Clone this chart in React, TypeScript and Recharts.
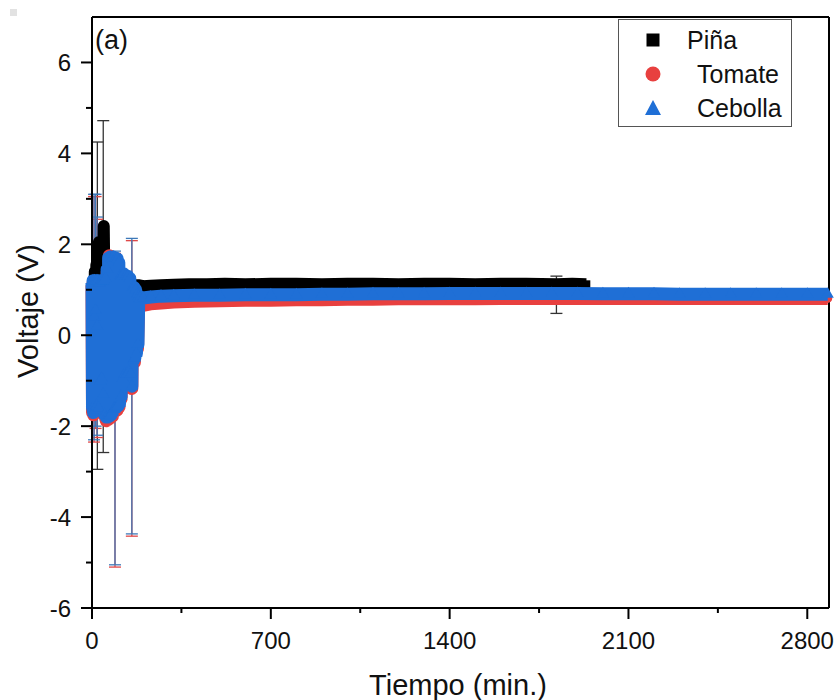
import { ScatterChart, Scatter, XAxis, YAxis, ZAxis, ErrorBar, ReferenceLine } from 'recharts'

// [time (min), voltage (V), error bar (symmetric, or [below, above])]
type Pt = [number, number, (number | [number, number])?]

const FONT = "'Liberation Sans', Arial, sans-serif"

const X_TICKS = [0, 350, 700, 1050, 1400, 1750, 2100, 2450, 2800]
const Y_TICKS = [-6, -5, -4, -3, -2, -1, 0, 1, 2, 3, 4, 5, 6]
const X_DOMAIN: [number, number] = [0, 2885]
const Y_DOMAIN: [number, number] = [-6, 7]

const SERIES_NAMES = ['Piña', 'Tomate', 'Cebolla']
const COLORS = ['#000000', '#e8403f', '#1f6fd6']
const ERR_COLORS = ['#333333', '#e04848', '#3d78b8']

const PINA: Pt[] = [
  [0, 0.9], [2, -1.3], [5, 1.2], [8, -0.9], [11, 1.4], [14, -0.2], [17, 1.55],
  [21, 0.65, 3.6], [24, 1.6], [27, 2.05], [31, 1.45], [36, 1.3], [41, 1.35],
  [44, 1.07, 3.65], [46, 2.4], [50, 0.6], [56, -0.8], [64, 0.9], [72, -1.2],
  [82, 0.5], [95, -0.8], [110, 0.6], [125, -0.4], [140, 0.8], [150, 1.05],
  [160, 1.1], [172, 1.1], [185, 1.1], [200, 1.08], [230, 1.09], [270, 1.1],
  [320, 1.11], [380, 1.12], [450, 1.12], [520, 1.13], [600, 1.12], [700, 1.13],
  [800, 1.13], [900, 1.12], [1000, 1.13], [1100, 1.13], [1200, 1.12], [1300, 1.13],
  [1400, 1.13], [1500, 1.12], [1600, 1.13], [1700, 1.13], [1818, 1.12, [0.64, 0.18]],
  [1880, 1.13], [1935, 1.12],
]

const TOMATE: Pt[] = [
  [0, 1.1], [2, -1.7], [4, 1.15], [6, -1.75], [8, 0.35, 2.7], [10, 1.1], [12, -1.7],
  [14, 0.5, 2.55], [16, 1.15], [18, -1.6], [20, 0.15, 2.4], [24, 1.1], [28, -1.65],
  [32, -1.05], [36, 1.1], [40, -1.0], [44, -1.35], [48, 1.1], [52, -1.8], [56, -1.88],
  [60, 1.4], [64, -1.85], [68, 1.75], [72, -1.82], [76, 1.72], [80, -1.78], [84, 1.7],
  [90, -1.65, 3.45], [94, 1.65], [98, -1.65], [102, 1.6], [106, -1.58], [110, 1.25],
  [114, -1.4], [118, 1.25], [122, -1.0], [128, 1.25], [134, -0.9], [140, 1.25],
  [146, -0.9], [152, -0.9], [156, -1.17, 3.25], [160, 1.0], [166, -0.6], [172, 0.9],
  [178, -0.3], [183, 0.7], [186, 0.64], [200, 0.66], [230, 0.69], [270, 0.71],
  [320, 0.73], [400, 0.75], [500, 0.76], [600, 0.77], [700, 0.77], [800, 0.78],
  [900, 0.78], [1000, 0.79], [1100, 0.79], [1200, 0.8], [1300, 0.8], [1400, 0.8],
  [1500, 0.8], [1600, 0.81], [1700, 0.81], [1800, 0.81], [1900, 0.81], [2000, 0.81],
  [2100, 0.81], [2200, 0.81], [2300, 0.81], [2400, 0.81], [2500, 0.81], [2600, 0.81],
  [2700, 0.81], [2800, 0.81], [2880, 0.81],
]

const CEBOLLA: Pt[] = [
  [0, 1.15], [2, -1.6], [4, 1.2], [6, -1.7], [8, 0.4, 2.7], [10, 1.2], [12, -1.65],
  [14, 0.55, 2.55], [16, 1.2], [18, -1.55], [20, 0.2, 2.4], [23, 1.2], [26, -1.6],
  [29, 1.15], [32, -1.0], [35, 1.2], [38, -0.95], [41, 1.2], [44, -1.3], [47, 1.2],
  [50, -1.75], [53, 1.25], [56, -1.8], [59, 1.45], [62, -1.8], [65, 1.7], [68, -1.78],
  [71, 1.72], [74, -1.75], [77, 1.7], [80, -1.7], [83, 1.72], [86, -1.62],
  [90, -1.6, 3.45], [93, 1.7], [96, -1.58], [99, 1.68], [102, -1.55], [105, 1.6],
  [108, -1.5], [111, 1.3], [114, -1.35], [117, 1.3], [120, -0.95], [124, 1.35],
  [128, -0.85], [132, 1.3], [136, -0.85], [140, 1.3], [144, -0.8], [148, 1.25],
  [152, -0.85], [156, -1.12, 3.25], [159, 1.05], [162, -0.55], [165, 1.05], [168, -0.5],
  [171, 1.0], [174, -0.4], [177, 0.9], [180, -0.2], [183, 0.85], [186, 0.8],
  [200, 0.82], [230, 0.84], [270, 0.86], [320, 0.87], [400, 0.88], [500, 0.88],
  [600, 0.89], [700, 0.89], [800, 0.89], [900, 0.9], [1000, 0.9], [1100, 0.91],
  [1200, 0.91], [1300, 0.91], [1400, 0.92], [1500, 0.92], [1600, 0.92], [1700, 0.92],
  [1800, 0.92], [1900, 0.92], [2000, 0.91], [2100, 0.91], [2200, 0.91], [2300, 0.9],
  [2400, 0.9], [2500, 0.9], [2600, 0.9], [2700, 0.9], [2800, 0.9], [2880, 0.9],
]

const SERIES_DATA = [PINA, TOMATE, CEBOLLA]
const SHAPES = ['square', 'circle', 'triangle'] as const
const BAND_WIDTHS = [12, 13, 13]

const toRows = (pts: Pt[]) => pts.map(([t, v, e]) => ({ t, v, e }))

function YTick({ x, y, payload }: any) {
  const major = payload.value % 2 === 0
  return (
    <g>
      <line x1={x} x2={x - (major ? 11 : 6)} y1={y} y2={y} stroke="#000" strokeWidth={2} />
      {major && (
        <text x={x - 21} y={y + 8.5} textAnchor="end" fontSize={24} fontFamily={FONT} fill="#111">
          {payload.value}
        </text>
      )}
    </g>
  )
}

function XTick({ x, y, payload }: any) {
  const major = payload.value % 700 === 0
  return (
    <g>
      <line x1={x} x2={x} y1={y} y2={y + (major ? 11 : 5)} stroke="#000" strokeWidth={2} />
      {major && (
        <text x={x} y={y + 41} textAnchor="middle" fontSize={24} fontFamily={FONT} fill="#111">
          {payload.value}
        </text>
      )}
    </g>
  )
}

function Overlay() {
  const rows = [40, 74, 108]
  return (
    <svg width={838} height={700} style={{ position: 'absolute', left: 0, top: 0, pointerEvents: 'none' }}>
      <rect x={10} y={9} width={7} height={7} fill="#e2e2e2" />
      <text x={95} y={49} fontSize={27} fontFamily={FONT} fill="#111">(a)</text>
      <text x={458} y={695} textAnchor="middle" fontSize={29} fontFamily={FONT} fill="#111">
        Tiempo (min.)
      </text>
      <text
        x={38}
        y={311}
        transform="rotate(-90, 38, 311)"
        textAnchor="middle"
        fontSize={29}
        fontFamily={FONT}
        fill="#111"
      >
        Voltaje (V)
      </text>

      {/* legend */}
      <rect x={618.5} y={19.5} width={173} height={107} fill="#fff" stroke="#555" strokeWidth={1} />
      <rect x={646.5} y={rows[0] - 6.5} width={13} height={13} fill={COLORS[0]} />
      <circle cx={653} cy={rows[1]} r={7.5} fill={COLORS[1]} />
      <polygon
        points={`653,${rows[2] - 8} 645,${rows[2] + 7} 661,${rows[2] + 7}`}
        fill={COLORS[2]}
      />
      {SERIES_NAMES.map((name, i) => (
        <text key={name} x={i === 0 ? 687 : 697} y={rows[i] + 8.5} fontSize={25} fontFamily={FONT} fill="#111">
          {name}
        </text>
      ))}
    </svg>
  )
}

export default function App() {
  return (
    <div style={{ position: 'absolute', left: 0, top: 0, width: 838, height: 700, background: '#fff' }}>
      <ScatterChart width={838} height={700} margin={{ top: 17, right: 9, bottom: 0, left: 0 }}>
        <XAxis
          type="number"
          dataKey="t"
          domain={X_DOMAIN}
          ticks={X_TICKS}
          interval={0}
          tick={(p: any) => <XTick {...p} />}
          tickLine={false}
          tickSize={0}
          tickMargin={0}
          height={92}
          axisLine={{ stroke: '#000', strokeWidth: 2 }}
        />
        <YAxis
          type="number"
          dataKey="v"
          domain={Y_DOMAIN}
          ticks={Y_TICKS}
          interval={0}
          tick={(p: any) => <YTick {...p} />}
          tickLine={false}
          tickSize={0}
          tickMargin={0}
          width={92}
          axisLine={{ stroke: '#000', strokeWidth: 2 }}
        />
        <ZAxis range={[130, 130]} />
        <ReferenceLine y={Y_DOMAIN[1]} stroke="#000" strokeWidth={2} />
        <ReferenceLine x={X_DOMAIN[1]} stroke="#000" strokeWidth={2} />
        {SERIES_DATA.map((pts, i) => (
          <Scatter
            key={SERIES_NAMES[i]}
            name={SERIES_NAMES[i]}
            data={toRows(pts)}
            fill={COLORS[i]}
            shape={SHAPES[i]}
            line={{ stroke: COLORS[i], strokeWidth: BAND_WIDTHS[i], strokeLinejoin: 'round' }}
            isAnimationActive={false}
          >
            <ErrorBar
              dataKey="e"
              direction="y"
              width={6}
              stroke={ERR_COLORS[i]}
              strokeWidth={1.3}
              isAnimationActive={false}
            />
          </Scatter>
        ))}
      </ScatterChart>
      <Overlay />
    </div>
  )
}
